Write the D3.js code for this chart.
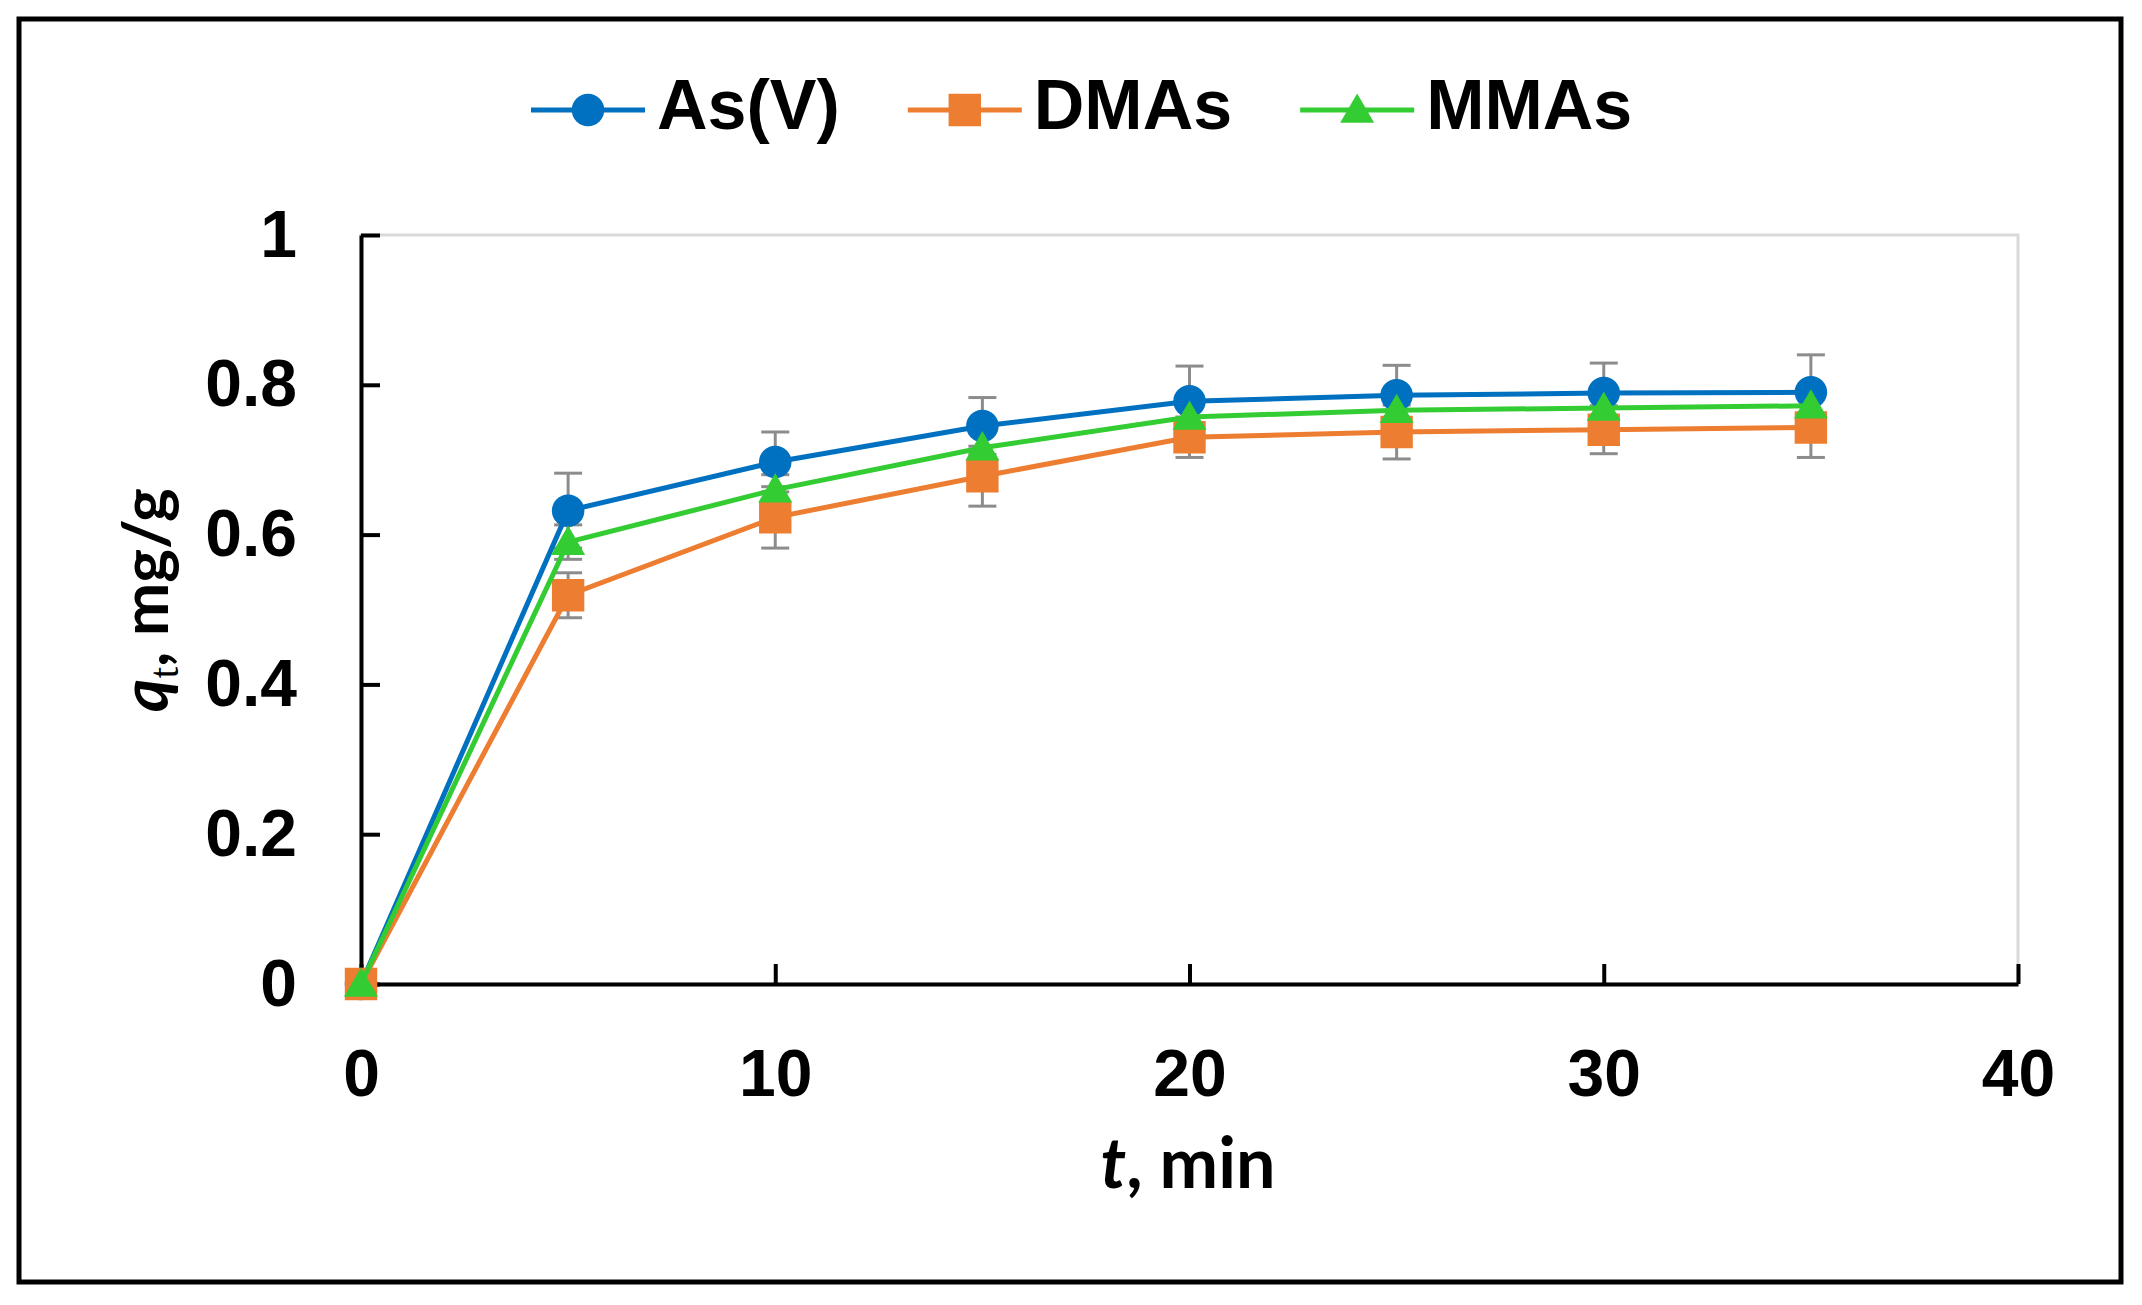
<!DOCTYPE html>
<html>
<head>
<meta charset="utf-8">
<script src="https://cdn.jsdelivr.net/npm/d3@7"></script>
<style>
  body { margin: 0; background: #fff; }
</style>
</head>
<body>
<script>
// time points (min) and adsorbed amount q_t (mg/g)
var times = [0, 5, 10, 15, 20, 25, 30, 35]
var asV = [0, 0.632, 0.697, 0.745, 0.778, 0.786, 0.789, 0.790]
var dmas = [0, 0.519, 0.623, 0.678, 0.730, 0.737, 0.740, 0.743]
var mmas = [0, 0.590, 0.660, 0.716, 0.757, 0.766, 0.769, 0.772]
// error bar half-widths
var asVErr = [0, 0.05, 0.04, 0.038, 0.047, 0.04, 0.04, 0.05]
var dmasErr = [0, 0.03, 0.041, 0.04, 0.027, 0.036, 0.032, 0.04]
var mmasErr = [0, 0.023, 0.02, 0.02, 0.02, 0.02, 0.02, 0.02]
var seriesNames = ['As(V)', 'DMAs', 'MMAs']
var xTicks = [0, 10, 20, 30, 40]
var yTicks = [0, 0.2, 0.4, 0.6, 0.8, 1]

function main() {
    var svgWidth = 2142, svgHeight = 1305
    var left = 361, right = 2018, top = 235, bottom = 984

    var svg = d3.select('body').append('svg')
        .attr('width', svgWidth)
        .attr('height', svgHeight)

    // outer frame
    svg.append('rect')
        .attr('x', 19).attr('y', 19)
        .attr('width', 2102).attr('height', 1263)
        .attr('fill', 'white').attr('stroke', 'black').attr('stroke-width', 5)

    var xScale = d3.scaleLinear().domain([0, 40]).range([left, right])
    var yScale = d3.scaleLinear().domain([0, 1]).range([bottom, top])

    // plot area border (light gray)
    svg.append('rect')
        .attr('x', left).attr('y', top)
        .attr('width', right - left).attr('height', bottom - top)
        .attr('fill', 'none').attr('stroke', '#d9d9d9').attr('stroke-width', 3)

    var series = [
        {name: seriesNames[0], values: asV, err: asVErr, color: '#0070C0', shape: 'circle'},
        {name: seriesNames[1], values: dmas, err: dmasErr, color: '#ED7D31', shape: 'square'},
        {name: seriesNames[2], values: mmas, err: mmasErr, color: '#33CC33', shape: 'triangle'}
    ]

    var tickFont = '"Liberation Sans", Arial, sans-serif'

    // x axis
    var xAxis = svg.append('g').attr('transform', `translate(0, ${bottom})`)
        .call(d3.axisBottom(xScale).tickValues(xTicks).tickSizeInner(-20).tickSizeOuter(0).tickPadding(65))
    // y axis
    var yAxis = svg.append('g').attr('transform', `translate(${left}, 0)`)
        .call(d3.axisLeft(yScale).tickValues(yTicks).tickSizeInner(-19).tickSizeOuter(0).tickPadding(64)
            .tickFormat(function(d){ return d3.format('~g')(d) }))

    ;[xAxis, yAxis].forEach(function(ax) {
        ax.select('.domain').attr('stroke', 'black').attr('stroke-width', 4)
        ax.selectAll('.tick line').attr('stroke', 'black').attr('stroke-width', 4)
        ax.selectAll('.tick text')
            .attr('fill', 'black')
            .attr('font-family', tickFont)
            .attr('font-weight', 'bold')
            .attr('font-size', '66px')
    })

    function markerPath(shape) {
        if (shape === 'circle') return d3.symbol().type(d3.symbolCircle).size(830)()
        if (shape === 'square') return d3.symbol().type(d3.symbolSquare).size(1050)()
        return d3.symbol().type(d3.symbolTriangle).size(500)()
    }

    var pts = function(s) {
        return times.map(function(t, i){ return {t: t, v: s.values[i], e: s.err[i]} })
    }

    // error bars
    series.forEach(function(s) {
        var g = svg.append('g').attr('stroke', '#8c8c8c').attr('stroke-width', 3)
        pts(s).filter(function(d){ return d.e > 0 }).forEach(function(d) {
            var x = xScale(d.t)
            g.append('line').attr('x1', x).attr('x2', x)
                .attr('y1', yScale(d.v - d.e)).attr('y2', yScale(d.v + d.e))
            ;[d.v - d.e, d.v + d.e].forEach(function(v) {
                g.append('line').attr('x1', x - 14).attr('x2', x + 14)
                    .attr('y1', yScale(v)).attr('y2', yScale(v))
            })
        })
    })

    // lines + markers
    var line = d3.line().x(function(d){ return xScale(d.t) }).y(function(d){ return yScale(d.v) })
    series.forEach(function(s) {
        svg.append('path').datum(pts(s))
            .attr('d', line)
            .attr('fill', 'none')
            .attr('stroke', s.color)
            .attr('stroke-width', 5)
        svg.selectAll('.m-' + s.shape)
            .data(pts(s))
            .enter().append('path')
            .attr('class', 'm-' + s.shape)
            .attr('d', markerPath(s.shape))
            .attr('transform', function(d){
                var dy = s.shape === 'triangle' ? 3 : 0
                return `translate(${xScale(d.t)}, ${yScale(d.v) + dy})`
            })
            .attr('fill', s.color)
    })

    // legend
    var legend = svg.append('g')
    var lx = 531, ly = 110
    series.forEach(function(s) {
        legend.append('line')
            .attr('x1', lx).attr('x2', lx + 114)
            .attr('y1', ly).attr('y2', ly)
            .attr('stroke', s.color).attr('stroke-width', 5)
        legend.append('path')
            .attr('d', markerPath(s.shape))
            .attr('transform', `translate(${lx + 57}, ${ly + (s.shape === 'triangle' ? 3 : 0)})`)
            .attr('fill', s.color)
        var txt = legend.append('text')
            .attr('x', lx + 126).attr('y', ly + 19)
            .attr('font-family', tickFont)
            .attr('font-weight', 'bold')
            .attr('font-size', '70px')
            .text(s.name)
        lx = lx + 126 + txt.node().getComputedTextLength() + 68
    })

    // axis titles
    var titleFont = 'Lato, "Open Sans", sans-serif'
    var xt = svg.append('text')
        .attr('x', 1188).attr('y', 1188)
        .attr('text-anchor', 'middle')
        .attr('font-family', titleFont)
        .attr('font-weight', 'bold')
        .attr('font-size', '70px')
    xt.append('tspan').attr('font-style', 'italic').text('t')
    xt.append('tspan').text(', min')

    var yt = svg.append('text')
        .attr('transform', 'translate(168, 600) rotate(-90)')
        .attr('text-anchor', 'middle')
        .attr('font-family', titleFont)
        .attr('font-weight', 'bold')
        .attr('font-size', '64px')
    yt.append('tspan').attr('font-style', 'italic').text('q')
    yt.append('tspan').attr('font-family', '"Liberation Serif", serif').attr('font-weight', 'normal')
        .attr('font-size', '42px').attr('dy', 10).text('t')
    yt.append('tspan').attr('dy', -10).text(', mg/g')
}

main()
</script>
</body>
</html>
